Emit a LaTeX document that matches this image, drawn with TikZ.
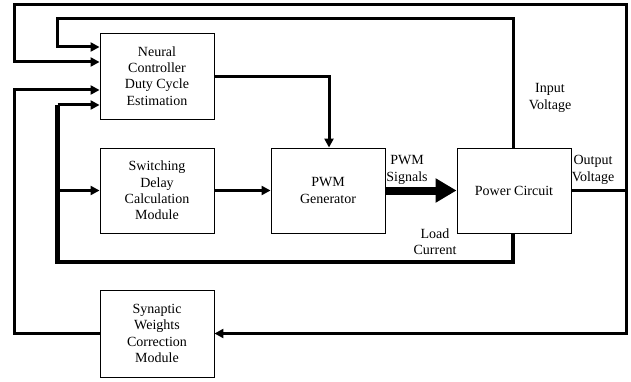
\documentclass[tikz,border=0pt]{standalone}
\usepackage{fontspec}
\setmainfont{Liberation Serif}
\usetikzlibrary{arrows.meta}
\begin{document}
\begin{tikzpicture}[x=1pt,y=-1pt,
  blk/.style={draw, line width=0.9pt, minimum width=114pt, minimum height=85pt, inner sep=0pt, align=center, font=\fontsize{14}{16.3}\selectfont},
  lbl/.style={align=center, inner sep=0pt, font=\fontsize{14}{16.3}\selectfont},
  wire/.style={line width=3pt, line join=miter},
  thin/.style={line width=2.4pt},
  heavy/.style={line width=4.2pt, line join=miter},
  tip/.style={-{Triangle[length=9pt,width=9pt]}}]
\useasboundingbox (0,0) rectangle (631,382);
\node[blk, minimum height=86pt] (nc) at (157,76) {Neural\\Controller\\Duty Cycle\\Estimation};
\node[blk] (sw) at (157,190.5) {Switching\\Delay\\Calculation\\Module};
\node[blk, text depth=0pt] (pwm) at (328,190.5) {PWM\\Generator};
\node[blk] (pc) at (514,190.5) {Power Circuit};
\node[blk, minimum height=87pt] (syn) at (157,333.5) {Synaptic\\Weights\\Correction\\Module};
% coordinates
\coordinate (ov) at (626,190.5);
\coordinate (tr) at (626,5);
\coordinate (tl) at (14.5,5);
\coordinate (br) at (626,333.5);
\coordinate (bl) at (14.5,333.5);
\coordinate (nin1) at (14.5,62);
\coordinate (nin3) at (14.5,90);
\coordinate (iv) at (513,19);
\coordinate (ivl) at (57.5,19);
\coordinate (nin2) at (57.5,47);
\coordinate (lc) at (513,262);
\coordinate (lcl) at (57.5,262);
\coordinate (nin4) at (57.5,105);
\coordinate (swin) at (57.5,190.5);
\coordinate (ncout) at (329,77);
% output voltage loops
\draw[wire] (pc.east |- ov) -- (ov);
\draw[wire, tip] (ov) -- (tr) -- (tl) -- (nin1) -- (nc.west |- nin1);
\draw[wire, tip] (ov) -- (br) -- (syn.east);
\draw[wire, tip] (syn.west) -- (bl) -- (nin3) -- (nc.west |- nin3);
% input voltage
\draw[wire, tip] (pc.north -| iv) -- (iv) -- (ivl) -- (nin2) -- (nc.west |- nin2);
% load current
\draw[heavy] (pc.south -| lc) -- (lc) -- (lcl) -- (nin4);
\draw[wire, tip] (nin4) -- (nc.west |- nin4);
\draw[thin, tip] (swin) -- (sw.west);
% controller to PWM
\draw[wire, tip] (nc.east |- ncout) -- (ncout) -- (pwm.north -| ncout);
% switching to PWM
\draw[thin, tip] (sw.east) -- (pwm.west);
% PWM to power circuit
\draw[line width=8pt, -{Triangle[length=21pt,width=23pt]}] (pwm.east) -- (pc.west);
% labels
\node[lbl] (l1) at (407,170) {PWM\\Signals};
\node[lbl] (l2) at (550,98) {Input\\Voltage};
\node[lbl] (l3) at (593,170) {Output\\Voltage};
\node[lbl] (l4) at (435,242) {Load\\Current};
\end{tikzpicture}
\end{document}
